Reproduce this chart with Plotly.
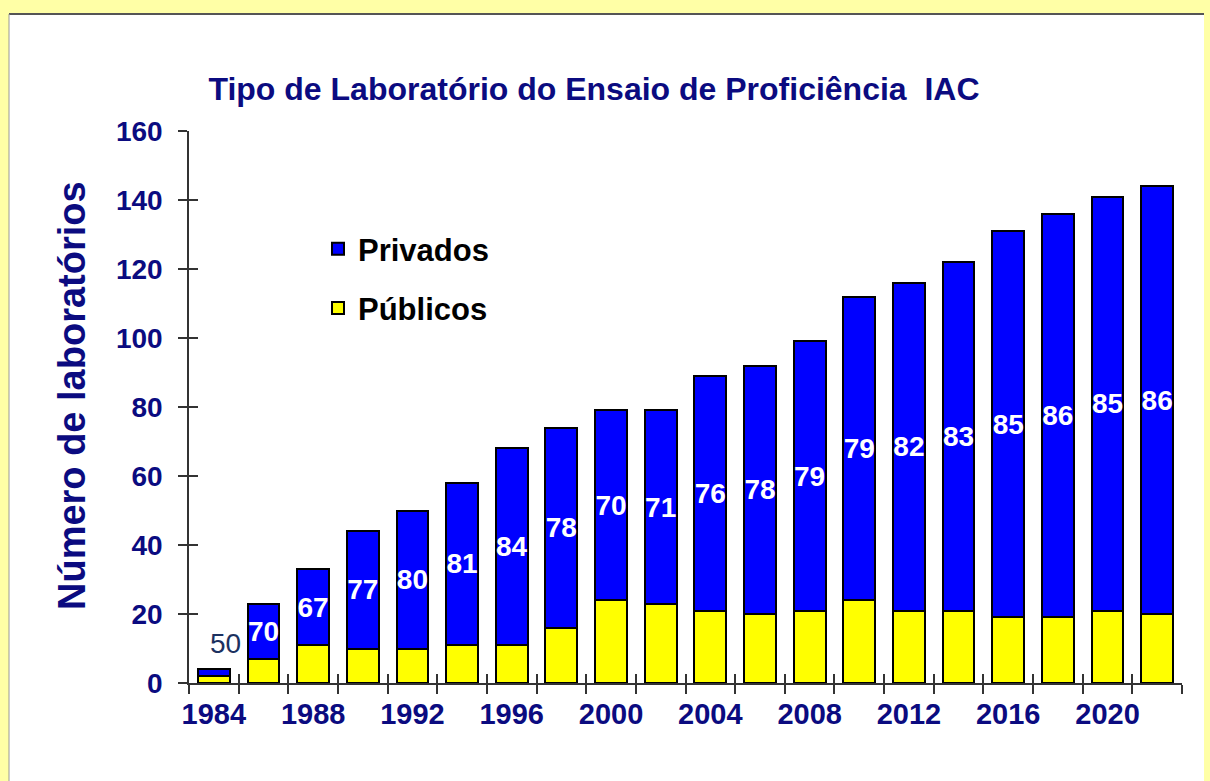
import plotly.graph_objects as go

# dados
anos = [1984, 1986, 1988, 1990, 1992, 1994, 1996, 1998, 2000, 2002,
        2004, 2006, 2008, 2010, 2012, 2014, 2016, 2018, 2020, 2022]
publicos = [2, 7, 11, 10, 10, 11, 11, 16, 24, 23,
            21, 20, 21, 24, 21, 21, 19, 19, 21, 20]
privados = [2, 16, 22, 34, 40, 47, 57, 58, 55, 56,
            68, 72, 78, 88, 95, 101, 112, 117, 120, 124]
pct_privados = ["50", "70", "67", "77", "80", "81", "84", "78", "70", "71",
                "76", "78", "79", "79", "82", "83", "85", "86", "85", "86"]
anos_rotulo = [1984, 1988, 1992, 1996, 2000, 2004, 2008, 2012, 2016, 2020]
y_ticks = [0, 20, 40, 60, 80, 100, 120, 140, 160]

# limites entre as barras (marcas do eixo x)
limites = [a - 1 for a in anos] + [anos[-1] + 1]
total = [p + q for p, q in zip(publicos, privados)]

NAVY = "#0b0b80"
FONT = "Arial, Liberation Sans, sans-serif"

W, H = 1210, 781
L, R, T, B = 189, 28, 131, 98
pw, ph = W - L - R, H - T - B


def px(x):
    return (x - L) / pw


def py(y):
    return (H - B - y) / ph


fig = go.Figure()
fig.add_bar(x=anos, y=publicos, name="Públicos", legendgroup="pub", legendrank=2,
            marker=dict(color="#ffff00", line=dict(color="black", width=2)),
            width=1.28, hoverinfo="x+y")
txt = [""] + pct_privados[1:]
fig.add_bar(x=anos, y=privados, name="Privados", legendgroup="priv", legendrank=1,
            marker=dict(color="#0000ff", line=dict(color="black", width=2)),
            width=1.28, text=txt, textposition="inside", insidetextanchor="middle",
            textangle=0, constraintext="none",
            textfont=dict(color="white", size=28, family=FONT, weight="bold"),
            hoverinfo="x+y")
# traço invisível para o eixo sobreposto (marcas cruzadas)
fig.add_scatter(x=anos, y=publicos, xaxis="x2", yaxis="y2", mode="markers",
                marker=dict(opacity=0), showlegend=False, hoverinfo="skip")

# rótulo da primeira barra, acima dela
fig.add_annotation(x=anos[0], y=total[0], text=pct_privados[0], showarrow=False,
                   yanchor="bottom", xanchor="center", xshift=12, yshift=8,
                   font=dict(color="#1c3160", size=28, family=FONT))

# título do eixo y
fig.add_annotation(xref="paper", yref="paper", x=px(72), y=py(396),
                   text="<b>Número de laboratórios</b>", textangle=-90,
                   showarrow=False, xanchor="center", yanchor="middle",
                   font=dict(family=FONT, size=38, color=NAVY))

# painel branco tipo slide
fig.add_shape(type="rect", xref="paper", yref="paper", layer="below",
              x0=px(9), x1=px(1204), y0=py(795), y1=py(14),
              fillcolor="white", line=dict(width=0))
fig.add_shape(type="line", xref="paper", yref="paper", layer="below",
              x0=px(9), x1=px(1204), y0=py(14), y1=py(14),
              line=dict(color="#555555", width=2))
fig.add_shape(type="line", xref="paper", yref="paper", layer="below",
              x0=px(9), x1=px(9), y0=py(14), y1=py(795),
              line=dict(color="#999999", width=1))

fig.update_layout(
    width=W, height=H,
    margin=dict(l=L, r=R, t=T, b=B),
    paper_bgcolor="#ffffa6",
    plot_bgcolor="rgba(0,0,0,0)",
    barmode="stack",
    uniformtext=dict(mode="show", minsize=28),
    title=dict(text="<b>Tipo de Laboratório do Ensaio de Proficiência  IAC</b>",
               x=px(594), xref="paper", xanchor="center",
               y=1 - 89 / H, yanchor="middle",
               font=dict(family=FONT, size=32, color=NAVY)),
    legend=dict(x=px(318), y=py(222), xanchor="left", yanchor="top",
                traceorder="grouped", tracegroupgap=16,
                bgcolor="rgba(0,0,0,0)",
                font=dict(family=FONT, size=31, color="black", weight="bold")),
    xaxis=dict(range=[limites[0], limites[-1]], tickvals=anos_rotulo,
               ticktext=[str(a) for a in anos_rotulo], ticks="",
               showline=True, linecolor="#333333", linewidth=1.5,
               showgrid=False, zeroline=False, ticklabelstandoff=4,
               tickfont=dict(family=FONT, size=29, color=NAVY, weight="bold"),
               minor=dict(tickvals=limites, ticks="outside", ticklen=9,
                          tickcolor="#333333", tickwidth=1.5, showgrid=False)),
    yaxis=dict(range=[0, 160], tickvals=y_ticks, ticks="outside", ticklen=9,
               tickcolor="#333333", tickwidth=1.5,
               showline=True, linecolor="#333333", linewidth=1.5,
               showgrid=False, zeroline=False, ticklabelstandoff=10,
               tickfont=dict(family=FONT, size=28, color=NAVY, weight="bold")),
    xaxis2=dict(overlaying="x", anchor="y2", side="bottom",
                range=[limites[0], limites[-1]], tickvals=limites, ticks="inside",
                ticklen=9, tickcolor="#333333", tickwidth=1.5,
                showticklabels=False, showgrid=False, zeroline=False, showline=False),
    yaxis2=dict(overlaying="y", anchor="x2", side="left", range=[0, 160],
                tickvals=y_ticks, ticks="inside", ticklen=9, tickcolor="#333333",
                tickwidth=1.5, showticklabels=False, showgrid=False,
                zeroline=False, showline=False),
)

fig.write_html("out.html", config={"displayModeBar": False},
               post_script="document.body.style.margin='0';"
                           "document.body.style.overflow='hidden';")
